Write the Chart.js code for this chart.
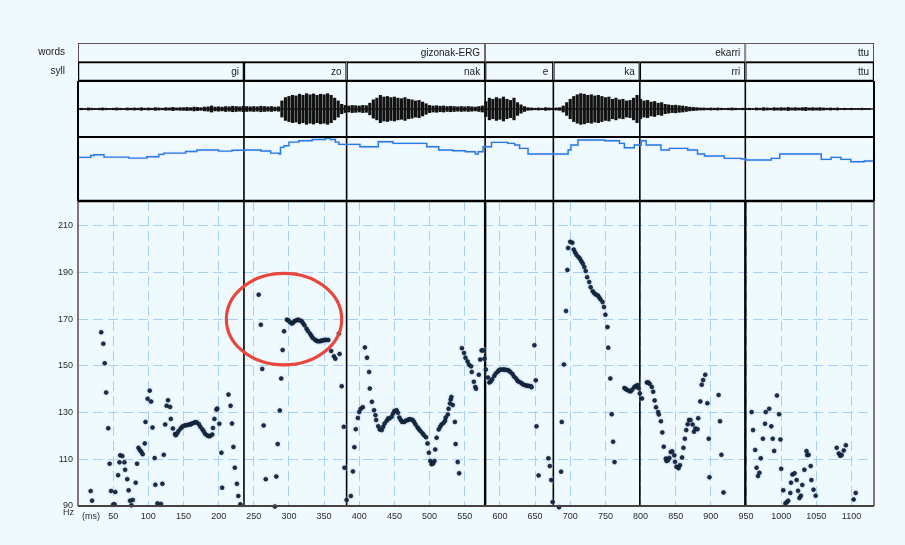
<!DOCTYPE html>
<html>
<head>
<meta charset="utf-8">
<script src="https://cdn.jsdelivr.net/npm/chart.js@4.4.0/dist/chart.umd.min.js"></script>
<style>
  html, body { margin: 0; padding: 0; background: #eefafe; }
  #wrap { position: relative; width: 905px; height: 545px; overflow: hidden; background: #eefafe; }
  canvas { position: absolute; left: 0; }
</style>
</head>
<body>
<div id="wrap">
  <canvas id="tiers" width="905" height="52" style="top:36px"></canvas>
  <canvas id="wave" width="905" height="68" style="top:75px"></canvas>
  <canvas id="inten" width="905" height="76" style="top:131px"></canvas>
  <canvas id="pitch" width="905" height="345" style="top:195px"></canvas>
</div>
<script>
  const X_MAX = 1132   // ms shown on the time axis

  // annotation tiers
  const wordLabels = ['gizonak-ERG', 'ekarri', 'ttu']
  const wordBounds = [0, 579, 949, 1132]
  const syllLabels = ['gi', 'zo', 'nak', 'e', 'ka', 'rri', 'ttu']
  const syllBounds = [0, 236, 382, 579, 676, 799, 949, 1132]

  // waveform envelope, one value every 5 ms (relative amplitude, 1 = full scale)
  const waveStep = 5
  const waveAmp = [
    0.03,0.04,0.03,0.05,0.04,0.03,0.04,0.05,0.04,0.03,
    0.04,0.05,0.04,0.03,0.05,0.04,0.05,0.04,0.06,0.04,
    0.05,0.04,0.06,0.05,0.04,0.06,0.05,0.07,0.05,0.06,
    0.06,0.07,0.06,0.08,0.07,0.06,0.08,0.09,0.12,0.08,
    0.09,0.08,0.10,0.09,0.11,0.10,0.09,0.11,0.10,0.09,
    0.10,0.09,0.11,0.10,0.09,0.10,0.08,0.09,0.30,0.42,
    0.46,0.50,0.48,0.54,0.50,0.56,0.52,0.55,0.50,0.54,
    0.52,0.56,0.50,0.40,0.30,0.18,0.14,0.12,0.14,0.13,
    0.12,0.14,0.13,0.22,0.34,0.40,0.50,0.44,0.46,0.42,
    0.44,0.40,0.38,0.42,0.36,0.34,0.30,0.32,0.26,0.20,
    0.14,0.12,0.13,0.11,0.12,0.10,0.11,0.10,0.09,0.10,
    0.09,0.10,0.09,0.08,0.10,0.12,0.28,0.40,0.36,0.42,
    0.38,0.44,0.36,0.32,0.40,0.24,0.16,0.10,0.06,0.05,
    0.04,0.05,0.04,0.06,0.05,0.04,0.05,0.06,0.12,0.24,
    0.36,0.46,0.52,0.56,0.54,0.50,0.52,0.48,0.50,0.46,
    0.42,0.44,0.36,0.40,0.34,0.36,0.30,0.32,0.40,0.50,
    0.36,0.30,0.32,0.26,0.28,0.22,0.24,0.18,0.16,0.14,
    0.15,0.13,0.12,0.10,0.08,0.07,0.06,0.05,0.05,0.04,
    0.05,0.04,0.05,0.04,0.03,0.04,0.05,0.04,0.03,0.04,
    0.03,0.04,0.03,0.05,0.04,0.06,0.05,0.04,0.06,0.05,
    0.06,0.05,0.07,0.05,0.06,0.05,0.06,0.07,0.05,0.06,
    0.05,0.06,0.05,0.04,0.05,0.04,0.05,0.03,0.04,0.03,
    0.04,0.03,0.03,0.04,0.03,0.03
  ]

  // intensity (dB): time where each level starts
  const intMs = [0,0,18,23,37,72,98,115,122,153,169,200,219,238,260,274,286,288,293,300,
    314,333,352,359,366,371,401,427,448,496,513,533,551,565,569,576,588,611,621,628,
    640,697,701,711,749,770,777,791,801,808,829,841,867,881,891,919,943,950,986,998,
    1057,1071,1085,1099,1118,1132]
  const intDb = [30,64.1,65.6,66.1,64.3,63.5,64.6,66.4,67.4,68.7,69.8,69.0,69.6,69.8,69.1,67.4,66.7,71.9,73.2,76.0,
    77.1,78.1,78.9,78.1,76.0,74.2,72.4,76.3,75.0,72.4,69.8,69.2,68.5,66.7,68.5,72.4,75.8,75.0,73.7,71.1,
    66.7,69.8,73.7,77.6,77.1,75.0,71.6,73.7,77.1,73.7,69.8,71.1,69.8,66.7,65.1,63.3,62.8,62.0,63.3,66.7,
    62.5,64.1,62.5,60.7,61.2,61.2]

  // pitch points [ms, Hz], per syllable
  const pitchGi = [[18,96.4],[20,92.3],[33,164.4],[36,159.5],[38,151.1],[40,138.6],[43,123.3],[45,108.1],[47,96.4],[50,90.6],
    [52,90.7],[53,96],[57,103.2],[59,108.7],[60,111.7],[63,111.4],[66,108.7],[67,105.5],[70,101.5],[72,96.7],
    [74,92.3],[76,90.3],[78,92.6],[82,100],[84,108.1],[86,114.9],[88,113.9],[90,113.2],[92,112.2],[95,116.8],
    [96,126],[99,135.9],[102,139.4],[104,134.7],[106,123.6],[109,110.5],[110,99.1],[113,91.1],[118,90.9],[120,99.5],
    [122,111.9],[124,124.9],[126,132.9],[128,135.3],[131,132.4],[132,127.3],[135,123.2],[138,120.8],[139,120.3],[141,121.1],
    [143,122.1],[146,123.2],[148,123.9],[150,124.3],[153,124.6],[155,124.6],[158,124.9],[160,124.9],[162,125.3],[165,125.6],
    [167,125.9],[169,125.8],[172,125],[174,123.9],[177,122.8],[179,121.8],[181,120.8],[184,120.2],[186,119.9],[188,120],
    [191,120.6],[192,123.4],[194,127.3],[197,131.3],[198,131.7],[201,125.2],[204,112.8],[205,97.8],[214,137.7],[217,132.9],
    [219,125.3],[221,115.3],[223,106.4],[226,99.5],[228,94.3],[231,90.7]]
  const pitchZo = [[257,180.5],[260,167.6],[262,148.7],[264,124.5],[267,101.5],[280,89.8],[282,102.6],[284,116.5],[287,130.9],[289,144.6],
    [291,156.8],[293,164.8],[297,169.8],[299,169.5],[301,168.8],[304,168.1],[306,168.5],[308,169.2],[311,169.5],[313,169.8],
    [315,169.5],[318,169.2],[320,168.3],[322,167.4],[325,165.9],[327,164.9],[330,163.8],[332,162.8],[334,161.9],[337,161.2],
    [339,160.8],[341,160.5],[344,160.5],[346,160.8],[348,160.9],[351,161.1],[353,161.1],[356,161.1],[360,156.4],[364,154.1],
    [366,153.1],[371,163.8],[372,155.1],[375,141.3],[378,123.9],[379,106.4],[382,92.6]]
  const pitchNak = [[388,94.3],[391,104.8],[393,115.2],[395,122.9],[398,127.7],[400,130.3],[402,131.6],[405,132.3],[408,157.9],[411,153.5],
    [414,147.4],[415,140.3],[418,134.6],[421,131],[423,128.9],[424,126.8],[427,124.2],[429,122.8],[432,122.5],[434,123.9],
    [436,125.3],[439,126.5],[441,127.5],[443,127.5],[446,128.2],[448,129.6],[450,130.7],[453,131],[455,129.9],[457,127.9],
    [459,126.8],[461,126],[464,126],[466,126.5],[469,126.8],[471,127.1],[473,127.1],[476,126.8],[478,126],[480,124.9],
    [483,123.6],[485,122.8],[487,122.1],[490,121.1],[492,120.3],[495,119.4],[497,116.8],[499,112.8],[501,109.3],[503,107.9],
    [505,108.2],[507,109.3],[508,114.2],[510,119.2],[513,122.8],[515,123.9],[517,124.9],[520,125.6],[522,126.5],[523,127.9],
    [526,129.2],[527,131.6],[529,133.9],[530,135.6],[531,136.7],[533,133.2],[536,126],[537,116.5],[540,108.8],[542,104],
    [546,157.6],[549,155.5],[551,153.5],[554,151.9],[556,150.5],[559,149.8],[560,147.4],[563,143.2],[565,141],[566,140.2],
    [570,146.2],[572,152.7],[574,156.6],[576,156.6],[578,153.1]]
  const pitchE = [[580,148.4],[583,145],[585,142.9],[587,143.3],[589,144.3],[592,145.7],[594,146.7],[597,147.6],[599,148.2],[601,148.4],
    [604,148.4],[606,148.4],[608,148.3],[611,148.2],[613,147.9],[615,147.3],[618,146.5],[620,145.4],[623,144.6],[625,143.6],
    [627,143.2],[630,142.8],[632,142.2],[634,141.9],[637,141.6],[639,141.5],[641,141.4],[644,141.3],[645,140.9],[649,158.8],
    [651,143.8],[652,124.1],[655,103.1],[669,110.4],[671,107.1],[673,101.1],[675,91.7]]
  const pitchKa = [[684,89.5],[687,104.7],[688,126],[691,150.6],[694,173.5],[696,191.1],[697,200.5],[700,203.1],[703,202.7],[705,199.8],
    [707,198.6],[709,197.5],[712,196.5],[714,195.8],[716,194.7],[718,193.7],[720,192.3],[722,190.6],[724,188],[727,185.9],
    [729,183.7],[732,182],[734,181.2],[736,180.6],[739,180.2],[741,179.4],[743,178.5],[746,177.3],[748,175.2],[750,171.9],
    [753,166.6],[754,157.8],[757,144.6],[759,129.3],[761,117.5],[763,108.8],[777,140.5],[779,140.1],[781,139.7],[784,139.2],
    [786,139.1],[788,139.8],[791,140.8],[793,141.4],[796,141.8],[797,140.5],[799,138.2]]
  const pitchRri = [[802,136],[809,142.9],[811,142.9],[813,142.3],[816,141],[818,138.9],[820,135.2],[822,132.3],[825,130.2],[826,129.2],
    [829,126.3],[831,121.5],[833,115.4],[836,110.3],[837,109.3],[839,109.6],[841,110.6],[843,113.1],[845,113.4],[848,111.7],
    [849,108.9],[851,106.8],[854,106.2],[856,107.5],[859,110.8],[861,114.9],[863,118.8],[865,122.5],[867,125],[869,126.8],
    [871,126.8],[874,124.9],[876,121.8],[878,123.2],[881,122.9],[882,127.6],[885,134.8],[887,141.9],[889,143.9],[892,146.2],
    [895,134],[897,118.8],[898,102.3],[911,137.5],[913,126.3],[915,111.9],[918,95.8]]
  const pitchTtu = [[958,130.2],[960,122.5],[963,114],[965,106.4],[967,102.8],[969,104.2],[971,110.4],[974,118.8],[977,125.2],[978,130.2],
    [983,131.6],[986,124.1],[988,118.8],[990,113.6],[994,137.3],[997,129.3],[999,118.5],[1000,105.9],[1003,96.7],[1006,91.1],
    [1008,91.6],[1010,92.3],[1013,95.6],[1014,100],[1016,103.5],[1019,104],[1022,101.1],[1024,96.5],[1026,93.4],[1028,94.4],
    [1030,99],[1033,105.5],[1036,113.5],[1037,111.8],[1039,111.9],[1042,107.1],[1043,101.1],[1046,97],[1049,94.4],[1079,114.9],
    [1082,112.5],[1084,111.5],[1086,111.8],[1089,113.8],[1092,116],[1103,92.8],[1106,95.6]]

  const yTicks = [90, 110, 130, 150, 170, 190, 210]
  const xTicks = [50,100,150,200,250,300,350,400,450,500,550,600,650,700,750,800,850,900,950,1000,1050,1100]

  // red mark around the "zo" peak
  const highlight = { ms: 293, hz: 170, rMs: 82, rHz: 19.6 }

  const FONT = '"Liberation Sans", Arial, sans-serif'
  Chart.defaults.font.family = FONT
  const base = { responsive: false, animation: false, devicePixelRatio: 1, events: [] }
  const noPlugins = { legend: { display: false }, tooltip: { enabled: false } }


  function pitchPoints(){   // all syllables in one list of {x,y}
    const all = [].concat(pitchGi, pitchZo, pitchNak, pitchE, pitchKa, pitchRri, pitchTtu)
    return all.map((p) => ({ x: p[0], y: p[1] }))
  }

  function tierRows(){
    const rows = []
    for (let i = 0; i < wordLabels.length; i++) {
      rows.push({ x: [wordBounds[i], wordBounds[i + 1]], y: 'words', label: wordLabels[i] })
    }
    for (let i = 0; i < syllLabels.length; i++) {
      rows.push({ x: [syllBounds[i], syllBounds[i + 1]], y: 'syll', label: syllLabels[i] })
    }
    return rows
  }

  function noPad(s){   // keep tick labels from eating into the panel
    s.paddingTop = 0; s.paddingBottom = 0; s.paddingLeft = 0; s.paddingRight = 0
  }

  // frame + syllable boundaries on a panel
  function panelFrame(id, sides, bound){
    return {
      id: id,
      beforeDatasetsDraw(chart){
        const { ctx, chartArea: a, scales } = chart
        ctx.save()
        ctx.strokeStyle = '#000'
        syllBounds.slice(1, -1).forEach((b) => {
          const x = scales.x.getPixelForValue(b)
          ctx.lineWidth = wordBounds.includes(b) ? bound.word : bound.syll
          ctx.beginPath(); ctx.moveTo(x, a.top); ctx.lineTo(x, a.bottom); ctx.stroke()
        })
        ctx.restore()
      },
      afterDatasetsDraw(chart){
        const { ctx, chartArea: a } = chart
        const edge = (s, x1, y1, x2, y2) => {
          ctx.strokeStyle = s[0]; ctx.lineWidth = s[1]
          ctx.beginPath(); ctx.moveTo(x1, y1); ctx.lineTo(x2, y2); ctx.stroke()
        }
        ctx.save()
        edge(sides.left, a.left, a.top, a.left, a.bottom)
        edge(sides.right, a.right, a.top, a.right, a.bottom)
        edge(sides.bottom, a.left, a.bottom, a.right, a.bottom)
        edge(sides.top, a.left, a.top, a.right, a.top)
        ctx.restore()
      }
    }
  }

  const tierText = {
    id: 'tierText',
    afterDatasetsDraw(chart){
      const ctx = chart.ctx
      const rows = chart.data.datasets[0].data
      ctx.save()
      ctx.font = '10px ' + FONT
      ctx.fillStyle = '#1a1a1a'
      ctx.textAlign = 'right'
      ctx.textBaseline = 'middle'
      chart.getDatasetMeta(0).data.forEach((bar, i) => {
        ctx.fillText(rows[i].label, bar.x - 5, bar.y + 1)
      })
      ctx.restore()
    }
  }

  const zeroLine = {
    id: 'zeroLine',
    beforeDatasetsDraw(chart){
      const { ctx, chartArea: a, scales } = chart
      const y = scales.y.getPixelForValue(0)
      ctx.save()
      ctx.strokeStyle = '#3c1616'; ctx.lineWidth = 1.4
      ctx.beginPath(); ctx.moveTo(a.left, y); ctx.lineTo(a.right, y); ctx.stroke()
      ctx.restore()
    }
  }

  const pitchExtras = {
    id: 'pitchExtras',
    afterDraw(chart){
      const { ctx, scales } = chart
      const cx = scales.x.getPixelForValue(highlight.ms)
      const cy = scales.y.getPixelForValue(highlight.hz)
      const rx = scales.x.getPixelForValue(highlight.ms + highlight.rMs) - cx
      const ry = cy - scales.y.getPixelForValue(highlight.hz + highlight.rHz)
      ctx.save()
      ctx.strokeStyle = '#e8473d'; ctx.lineWidth = 3.2
      ctx.beginPath(); ctx.ellipse(cx, cy, rx, ry, 0, 0, Math.PI * 2); ctx.stroke()
      // axis units
      ctx.font = '9px ' + FONT
      ctx.fillStyle = '#2a2a2a'
      ctx.textBaseline = 'middle'
      ctx.textAlign = 'center'
      ctx.fillText('(ms)', 91, 517 - 195)
      ctx.fillText('Hz', 68.5, 512.5 - 195)
      ctx.restore()
    }
  }

  const blackBox = { left: ['#000', 2], right: ['#000', 2], top: ['#000', 2], bottom: ['#000', 2] }
  const bounds = { syll: 1.6, word: 1.6 }


  // words / syll tiers
  new Chart(document.getElementById('tiers'), {
    type: 'bar',
    data: {
      labels: ['words', 'syll'],
      datasets: [{
        data: tierRows(),
        backgroundColor: 'rgba(0,0,0,0)',
        borderColor: (c) => (c.raw && c.raw.y === 'syll') ? '#000' : '#3a2323',
        borderWidth: (c) => (c.raw && c.raw.y === 'syll') ? 1.2 : 0.8,
        borderSkipped: false,
        inflateAmount: 0,
        categoryPercentage: 1,
        barPercentage: 1
      }]
    },
    options: Object.assign({}, base, {
      indexAxis: 'y',
      layout: { padding: { top: 7, bottom: 7, left: 0, right: 31 } },
      plugins: noPlugins,
      scales: {
        x: { type: 'linear', min: 0, max: X_MAX, display: false },
        y: {
          type: 'category',
          grid: { display: false },
          border: { display: false },
          ticks: { padding: 5, color: '#222', font: { size: 10 } },
          afterFit: (s) => { s.width = 78; noPad(s) }
        }
      }
    }),
    plugins: [tierText]
  })

  // waveform
  new Chart(document.getElementById('wave'), {
    type: 'bar',
    data: {
      datasets: [{
        data: waveAmp.map((a, i) => ({ x: i * waveStep, y: [-a, a] })),
        backgroundColor: '#121212',
        borderWidth: 0,
        inflateAmount: 0,
        categoryPercentage: 1,
        barPercentage: 0.9
      }]
    },
    options: Object.assign({}, base, {
      layout: { padding: { top: 6, bottom: 6, left: 78, right: 31 } },
      plugins: noPlugins,
      scales: {
        x: { type: 'linear', min: 0, max: X_MAX, offset: false, display: false },
        y: { min: -1, max: 1, display: false }
      }
    }),
    plugins: [zeroLine, panelFrame('waveFrame', blackBox, bounds)]
  })

  // intensity (first dataset is drawn on top)
  const intPoints = intMs.map((t, i) => ({ x: t, y: intDb[i] }))
  new Chart(document.getElementById('inten'), {
    type: 'line',
    data: {
      datasets: [
        { data: intPoints, stepped: true, borderColor: '#1c7fe8', borderWidth: 1.4, pointRadius: 0, fill: false },
        { data: intPoints, stepped: true, borderColor: 'rgba(236,170,212,0.28)', borderWidth: 2.8, pointRadius: 0, fill: false }
      ]
    },
    options: Object.assign({}, base, {
      layout: { padding: { top: 6, bottom: 6, left: 78, right: 31 } },
      plugins: noPlugins,
      scales: {
        x: { type: 'linear', min: 0, max: X_MAX, display: false },
        y: { min: 30, max: 80, display: false }
      }
    }),
    plugins: [panelFrame('intFrame', blackBox, bounds)]
  })

  // pitch (dots first so they sit on top of their halo)
  const pts = pitchPoints()
  new Chart(document.getElementById('pitch'), {
    type: 'scatter',
    data: {
      datasets: [
        { data: pts, pointRadius: 2, backgroundColor: '#15304e', borderColor: '#08111d', borderWidth: 0.6, clip: false },
        { data: pts, pointStyle: 'rect', pointRadius: 5, backgroundColor: 'rgba(200,208,240,0.22)', borderWidth: 0, clip: false }
      ]
    },
    options: Object.assign({}, base, {
      layout: { padding: { top: 6, bottom: 0, left: 0, right: 31 } },
      plugins: noPlugins,
      scales: {
        x: {
          type: 'linear', min: 0, max: X_MAX,
          afterBuildTicks: (s) => { s.ticks = xTicks.map((v) => ({ value: v })) },
          afterFit: (s) => { s.height = 34; noPad(s) },
          grid: { color: '#a9d0f4', lineWidth: 1, drawTicks: false },
          border: { display: false, dash: [10, 5] },
          ticks: { padding: 5, color: '#2a2a2a', font: { size: 9 }, maxRotation: 0, autoSkip: false, callback: (v) => String(v) }
        },
        y: {
          min: 90, max: 220.6,
          afterBuildTicks: (s) => { s.ticks = yTicks.map((v) => ({ value: v })) },
          afterFit: (s) => { s.width = 78; noPad(s) },
          grid: { color: (c) => (c.tick && c.tick.value === 90) ? 'rgba(0,0,0,0)' : '#a9d0f4', lineWidth: 1, drawTicks: false },
          border: { display: false, dash: [10, 5] },
          ticks: { padding: 5, color: '#2a2a2a', font: { size: 9 }, callback: (v) => String(v) }
        }
      }
    }),
    plugins: [
      panelFrame('pitchFrame',
        { left: ['#5e4848', 1.5], right: ['#5e4848', 1.5], top: ['#000', 2.4], bottom: ['#4c4040', 2] },
        { syll: 1.6, word: 2.4 }),
      pitchExtras
    ]
  })
</script>
</body>
</html>
